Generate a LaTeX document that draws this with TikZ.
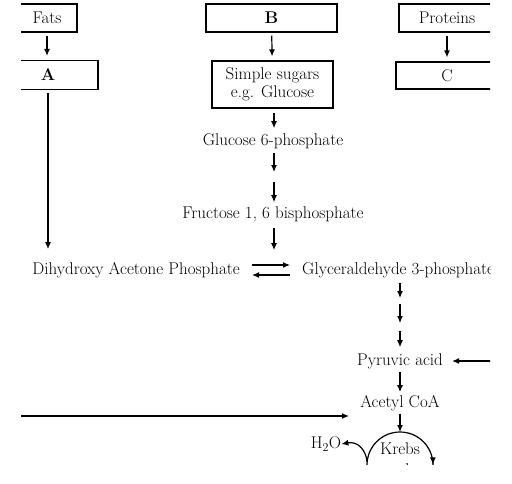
\documentclass[tikz,border=0pt]{standalone}
\usetikzlibrary{arrows.meta}

\tikzset{
  txt/.style={inner sep=0pt, font=\fontsize{17}{21}\selectfont},
  box/.style={txt, draw, line width=1.2pt, minimum height=28pt},
  flow/.style={line width=1.2pt, -{Latex[length=7pt, width=6pt]}}
}

\begin{document}
\begin{tikzpicture}[x=1pt, y=-1pt]
  % Marco (512 x 483) y recorte
  \useasboundingbox (0,0) rectangle (512,483);
  \clip (21,0) rectangle (490,464.5);

  % Fuentes de alimento
  \node[box, minimum width=60pt] (fats) at (47,18) {Fats};
  \node[box, minimum width=100pt, minimum height=29pt] (A) at (48,75) {\bfseries A};
  \node[box, minimum width=131pt] (B) at (271.5,18) {\bfseries B};
  \node[box, minimum width=121pt, minimum height=47pt, align=center] (sugar) at (272.5,84.5) {Simple sugars\\[-3pt]e.g. Glucose};
  \node[box, minimum width=96pt] (prot) at (447,18) {Proteins};
  \node[box, minimum width=102pt, minimum height=27pt] (C) at (447,75.5) {C};

  % Glucolisis
  \node[txt] (g6p) at (273,141) {Glucose 6-phosphate};
  \node[txt] (f16) at (273,214) {Fructose 1, 6 bisphosphate};
  \node[txt, anchor=east] (dhap) at (240,270) {Dihydroxy Acetone Phosphate};
  \node[txt, anchor=west] (gly) at (302,270) {Glyceraldehyde 3-phosphate};
  \node[txt] (pyr) at (400,361) {Pyruvic acid};
  \node[txt] (acetyl) at (400,403) {Acetyl CoA};

  % Ciclo de Krebs
  \node[circle, draw, line width=1.2pt, minimum size=66pt, inner sep=0pt, outer sep=0pt] (cycle) at (400,465) {};
  \node[txt, align=center] (krebs) at (400,461) {Krebs\\cycle};
  \node[txt] (h2o) at (326,444) {H$_2$O};

  % Puntos auxiliares
  \coordinate (m1) at (274,177);
  \coordinate (c1) at (400,301);
  \coordinate (c2) at (400,327);
  \coordinate (rt) at (505,361);
  \coordinate (lt) at (5,416);
  \coordinate (lt2) at (349,416);

  % Flechas
  \draw[flow, shorten <=3pt, shorten >=4pt] (fats) -- (fats |- A.north);
  \draw[flow, shorten <=3pt, shorten >=13pt] (A) -- (A |- dhap.north);
  \draw[flow, shorten <=3pt, shorten >=4pt] (B) -- (sugar);
  \draw[flow, shorten <=3pt, shorten >=4pt] (prot.south -| C) -- (C);
  \draw[flow, shorten <=4pt, shorten >=5pt] ([xshift=1.5pt]sugar.south) -- ([xshift=1pt]g6p.north);
  \draw[flow, shorten <=4pt, shorten >=5pt] ([xshift=1pt]g6p.south) -- (m1);
  \draw[flow, shorten <=5pt, shorten >=4pt] (m1) -- ([xshift=1pt]f16.north);
  \draw[flow, shorten <=6pt, shorten >=12pt] ([xshift=1pt]f16.south) -- ([xshift=1pt]f16.south |- dhap.north);
  \draw[flow, shorten <=12pt, shorten >=12pt] ([yshift=5pt]dhap.east) -- ([yshift=5pt]gly.west);
  \draw[flow, shorten <=12pt, shorten >=12pt] ([yshift=-5pt]gly.west) -- ([yshift=-5pt]dhap.east);
  \draw[flow, shorten <=5pt, shorten >=3pt] (gly.south -| c1) -- (c1);
  \draw[flow, shorten <=3pt, shorten >=4pt] (c1) -- (c2);
  \draw[flow, shorten <=4pt, shorten >=6pt] (c2) -- (pyr);
  \draw[flow, shorten >=9pt] (rt) -- (pyr.east);
  \draw[flow, shorten <=3pt, shorten >=3pt] (pyr) -- (acetyl);
  \draw[flow] (lt) -- (lt2);
  \draw[flow, shorten <=3pt] (acetyl) -- (cycle.north);
  \draw[flow] (cycle.175) .. controls (366,450) and (358,441) .. (h2o.east);
  \draw[flow] (cycle.10) arc[start angle=-10, end angle=-1, radius=33];
\end{tikzpicture}
\end{document}
